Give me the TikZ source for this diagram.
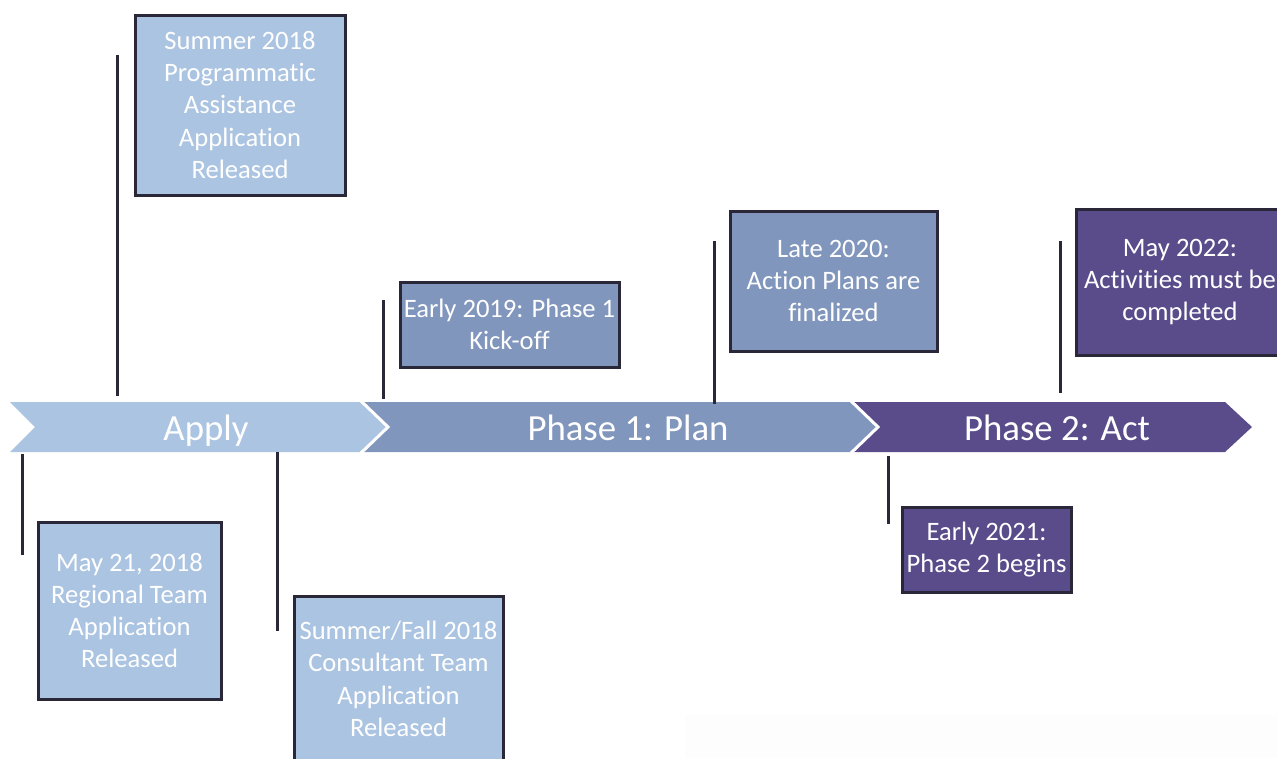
\documentclass[tikz,border=0pt]{standalone}
\usepackage{fontspec}
\setmainfont{Carlito}[Ligatures=NoCommon]
\definecolor{applyblue}{HTML}{ABC4E1}
\definecolor{planblue}{HTML}{8196BD}
\definecolor{actpurple}{HTML}{5A4C8B}
\definecolor{tickdark}{HTML}{2A2838}
\begin{document}
\begin{tikzpicture}[x=1pt, y=-1pt,
    event/.style ={draw=tickdark, line width=3pt, text=white, align=center, inner sep=0pt,
                   font=\fontsize{26.6}{32.3}\selectfont},
    tick/.style ={draw=tickdark, line width=3pt},
    phaselabel/.style ={text=white, anchor=base, font=\fontsize{36.8}{44}\selectfont}]
   \useasboundingbox (0,0) rectangle (1277,758);
   \fill[black!0.8] (685,715) rectangle (1277,758);

   % timeline chevrons
   \fill[actpurple] (852,402) -- (1225,402) -- (1252,427) -- (1225,452) -- (852,452) -- (878,427) -- cycle;
   \fill[planblue] (362,402) -- (852,402) -- (878,427) -- (852,452) -- (362,452) -- (388,427) -- cycle;
   \fill[applyblue] (10,402) -- (360,402) -- (387,427) -- (360,452) -- (10,452) -- (35,427) -- cycle;
   \draw[white, line width=3pt] (361,401) -- (388,427) -- (361,453);
   \draw[white, line width=3pt] (851,401) -- (878,427) -- (851,453);

   \node[phaselabel] (apply)  at (206,440)  {Apply};
   \node[phaselabel] (plan)   at (628,440)  {Phase 1: Plan};
   \node[phaselabel] (act)    at (1057,440) {Phase 2: Act};

   % event boxes
   \node[event, fill=applyblue, minimum width=210pt, minimum height=180pt] (summer18) at (240,105)
        {Summer 2018\\Programmatic\\Assistance\\Application\\Released};
   \node[event, fill=planblue, minimum width=219pt, minimum height=85pt] (early19) at (509.5,324.5)
        {Early 2019: Phase 1\\Kick-off};
   \node[event, fill=planblue, minimum width=207pt, minimum height=140pt] (late20) at (833.5,281)
        {Late 2020:\\Action Plans are\\finalized};
   \node[event, fill=actpurple, minimum width=208pt, minimum height=146pt] (may22) at (1180,282)
        {May 2022:\\Activities must be\\completed};
   \node[event, fill=applyblue, minimum width=183pt, minimum height=177pt] (may21) at (129.5,610.5)
        {May 21, 2018\\Regional Team\\Application\\Released};
   \node[event, fill=applyblue, minimum width=209pt, minimum height=166pt] (fall18) at (398.5,679)
        {Summer/Fall 2018\\Consultant Team\\Application\\Released};
   \node[event, fill=actpurple, minimum width=169pt, minimum height=85pt] (early21) at (986.5,549.5)
        {Early 2021:\\Phase 2 begins};

   % ticks
   \coordinate (t1a) at (117,55);   \coordinate (t1b) at (117,396);
   \coordinate (t2a) at (383,300);  \coordinate (t2b) at (383,399);
   \coordinate (t3a) at (714,241);  \coordinate (t3b) at (714,404);
   \coordinate (t4a) at (1060,241); \coordinate (t4b) at (1060,393);
   \coordinate (t5a) at (22,454);   \coordinate (t5b) at (22,555);
   \coordinate (t6a) at (277,452);  \coordinate (t6b) at (277,631);
   \coordinate (t7a) at (888,456);  \coordinate (t7b) at (888,524);

   \draw[tick] (t1a) to (t1b);
   \draw[tick] (t2a) to (t2b);
   \draw[tick] (t3a) to (t3b);
   \draw[tick] (t4a) to (t4b);
   \draw[tick] (t5a) to (t5b);
   \draw[tick] (t6a) to (t6b);
   \draw[tick] (t7a) to (t7b);
\end{tikzpicture}
\end{document}
